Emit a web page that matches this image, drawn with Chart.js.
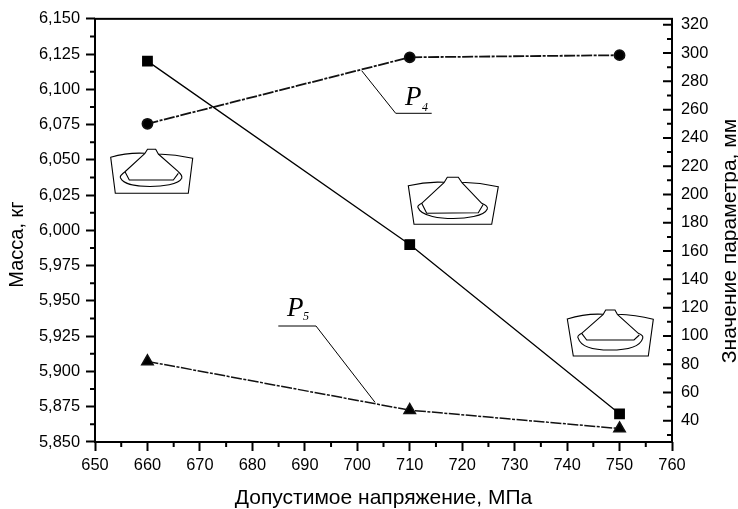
<!DOCTYPE html>
<html><head><meta charset="utf-8">
<style>html,body{margin:0;padding:0;background:#fff}#w{width:738px;height:509px}</style>
<script src="https://cdn.jsdelivr.net/npm/chart.js@4"></script>
</head><body><div id="w"><canvas id="c" width="738" height="509"></canvas></div>
<script>
const stress = [660, 710, 750];
const massValues = [6.12, 5.99, 5.87];
const p4Values = [250, 297, 298.5];
const p5Values = [82, 47.5, 34.5];
const xTicks = [650,660,670,680,690,700,710,720,730,740,750,760];
const leftTicks = [5.85,5.875,5.9,5.925,5.95,5.975,6,6.025,6.05,6.075,6.1,6.125,6.15];
const rightTicks = [40,60,80,100,120,140,160,180,200,220,240,260,280,300,320];
const xTitle = 'Допустимое напряжение, МПа';
const leftTitle = 'Масса, кг';
const rightTitle = 'Значение параметра, мм';

const FONT = '"Liberation Sans", Arial, sans-serif';
const SERIF = '"Liberation Serif", "Times New Roman", serif';
const fix = (ticks) => (s) => { s.ticks = ticks.map(v => ({value: v})); };

const icons = [
 {o:[[110.7,157.3],[145,153.3],[147.5,149.3],[155.7,149.3],[158.3,154],[192.7,158.3],[188.3,193.3],[115.3,193.3]],
  a:[145,153.3],b:[125,171.7],blob:[[120.7,178.3],[150,186.5],[181.7,178.3]],c:[178.3,171.7],d:[158.3,154],
  base:[[125,171.7],[129.3,180],[173.3,180],[178.3,173.3]]},
 {o:[[408.3,185.7],[444.3,182.3],[447.3,177.3],[458.3,177.3],[461.7,182.3],[498.3,186.7],[491.7,224.3],[414,224.3]],
  a:[444.3,182.3],b:[421.7,203.3],blob:[[418.3,208],[453.3,218.5],[487.3,209]],c:[481.7,203.3],d:[461.7,182.3],
  base:[[421.7,203.3],[426.7,213.3],[478.3,212.7],[483.3,204.3]]},
 {o:[[567.3,319],[603.3,314.3],[605.7,310],[615,310],[617.3,314.3],[653.3,319.3],[648.3,356],[573.3,356]],
  a:[603.3,314.3],b:[581.7,333.3],blob:[[578.3,338.3],[610,350],[642.7,338.3]],c:[638.3,333.3],d:[617.3,314.3],
  base:[[581.7,333.3],[586.7,340],[634,340],[639.3,335]]}
];

function drawIcon(ctx, ic){
  const o = ic.o;
  ctx.beginPath();
  ctx.moveTo(o[0][0],o[0][1]);
  ctx.quadraticCurveTo((o[0][0]+o[1][0])/2,o[1][1]-1,o[1][0],o[1][1]);
  ctx.lineTo(o[2][0],o[2][1]); ctx.lineTo(o[3][0],o[3][1]); ctx.lineTo(o[4][0],o[4][1]);
  ctx.quadraticCurveTo((o[4][0]+o[5][0])/2,o[4][1]+0.5,o[5][0],o[5][1]);
  ctx.lineTo(o[6][0],o[6][1]); ctx.lineTo(o[7][0],o[7][1]); ctx.closePath();
  ctx.stroke();
  const [l,m,r] = ic.blob;
  ctx.beginPath();
  ctx.moveTo(ic.a[0],ic.a[1]); ctx.lineTo(ic.b[0],ic.b[1]);
  ctx.quadraticCurveTo(l[0]-2,l[1]-2,l[0],l[1]);
  ctx.bezierCurveTo(l[0]+3,m[1]-2,m[0]-12,m[1],m[0],m[1]);
  ctx.bezierCurveTo(m[0]+12,m[1],r[0]-3,m[1]-2,r[0],r[1]);
  ctx.quadraticCurveTo(r[0]+1,r[1]-3,ic.c[0],ic.c[1]);
  ctx.lineTo(ic.d[0],ic.d[1]);
  ctx.stroke();
  ctx.beginPath();
  ic.base.forEach((p,i)=> i?ctx.lineTo(p[0],p[1]):ctx.moveTo(p[0],p[1]));
  ctx.stroke();
}

const decor = {
  id:'decor',
  afterDraw(chart){
    const {ctx, chartArea:a, scales:{x,y,yR}} = chart;
    ctx.save();
    ctx.strokeStyle='#000'; ctx.fillStyle='#000';
    ctx.lineWidth=2;
    ctx.strokeRect(a.left,a.top,a.right-a.left,a.bottom-a.top);
    ctx.beginPath();
    for(let v=655;v<760;v+=10){const p=x.getPixelForValue(v);ctx.moveTo(p,a.bottom);ctx.lineTo(p,a.bottom+5);}
    for(const v of leftTicks.slice(0,-1)){const p=y.getPixelForValue(v+0.0125);ctx.moveTo(a.left,p);ctx.lineTo(a.left-5,p);}
    for(let v=30;v<=320;v+=20){const p=yR.getPixelForValue(v);ctx.moveTo(a.right,p);ctx.lineTo(a.right-5,p);}
    for(const v of rightTicks){const p=yR.getPixelForValue(v);ctx.moveTo(a.right,p);ctx.lineTo(a.right-9,p);}
    ctx.stroke();
    ctx.textAlign='center'; ctx.textBaseline='alphabetic';
    ctx.font='20px '+FONT;
    ctx.translate(23,244.5); ctx.rotate(-Math.PI/2);
    ctx.fillText(leftTitle,0,0);
    ctx.setTransform(1,0,0,1,0,0);
    ctx.font='21px '+FONT;
    ctx.translate(736,241); ctx.rotate(-Math.PI/2);
    ctx.fillText(rightTitle,0,0);
    ctx.setTransform(1,0,0,1,0,0);
    ctx.lineWidth=1;
    ctx.beginPath();
    ctx.moveTo(361.7,70.7);ctx.lineTo(395.7,113.3);ctx.lineTo(431.7,113.3);
    ctx.moveTo(278.3,326);ctx.lineTo(316,326);ctx.lineTo(375,402.3);
    ctx.stroke();
    ctx.textAlign='left';
    ctx.font='italic 27px '+SERIF;
    ctx.fillText('P',405,105); ctx.fillText('P',287,316);
    ctx.font='italic 12px '+SERIF;
    ctx.fillText('4',422,111); ctx.fillText('5',303,320);
    ctx.lineWidth=1.1;
    icons.forEach(ic=>drawIcon(ctx,ic));
    ctx.restore();
  }
};

Chart.defaults.font.family = FONT;
new Chart(document.getElementById('c'),{
  type:'line',
  data:{labels:stress,datasets:[
    {label:'Масса',data:massValues,yAxisID:'y',borderColor:'#000',backgroundColor:'#000',borderWidth:1.3,
      pointStyle:'rect',pointRadius:6.7,tension:0},
    {label:'P4',data:p4Values,yAxisID:'yR',borderColor:'#111',backgroundColor:'#000',borderWidth:1.8,borderDash:[11,1.5,3,1.5],
      pointStyle:'circle',pointRadius:5,tension:0},
    {label:'P5',data:p5Values,yAxisID:'yR',borderColor:'#111',backgroundColor:'#000',borderWidth:1.5,borderDash:[11,1.5,3,1.5],
      pointStyle:'triangle',pointRadius:6.6,tension:0}
  ]},
  options:{
    responsive:false,animation:false,
    layout:{padding:{top:18,left:0,right:0,bottom:0}},
    plugins:{legend:{display:false},title:{display:false},tooltip:{enabled:false}},
    elements:{point:{borderWidth:0}},
    scales:{
      x:{type:'linear',position:'bottom',min:650,max:760,afterBuildTicks:fix(xTicks),
        afterFit(s){s.height=67;},
        border:{display:false},
        grid:{drawOnChartArea:false,tickLength:9,tickWidth:2,tickColor:'#000'},
        ticks:{color:'#000',font:{size:16.4},padding:5,maxRotation:0,autoSkip:false,callback:v=>String(v)},
        title:{display:true,text:xTitle,color:'#000',font:{size:21},padding:{top:0,bottom:-2}}},
      y:{position:'left',min:5.85,max:6.15,afterBuildTicks:fix(leftTicks),
        afterFit(s){s.width=95;},
        border:{display:false},
        grid:{drawOnChartArea:false,tickLength:9,tickWidth:2,tickColor:'#000'},
        ticks:{color:'#000',font:{size:16.4},padding:6,autoSkip:false,callback:v=>v.toFixed(3).replace('.',',')}},
      yR:{position:'right',min:25,max:324.2,afterBuildTicks:fix(rightTicks),
        afterFit(s){s.width=66;},
        border:{display:false},
        grid:{display:true,drawOnChartArea:false,drawTicks:false,tickLength:0},
        ticks:{color:'#000',font:{size:16.4},padding:9,autoSkip:false,callback:v=>String(v)}}
    }
  },
  plugins:[decor]
});
</script></body></html>
